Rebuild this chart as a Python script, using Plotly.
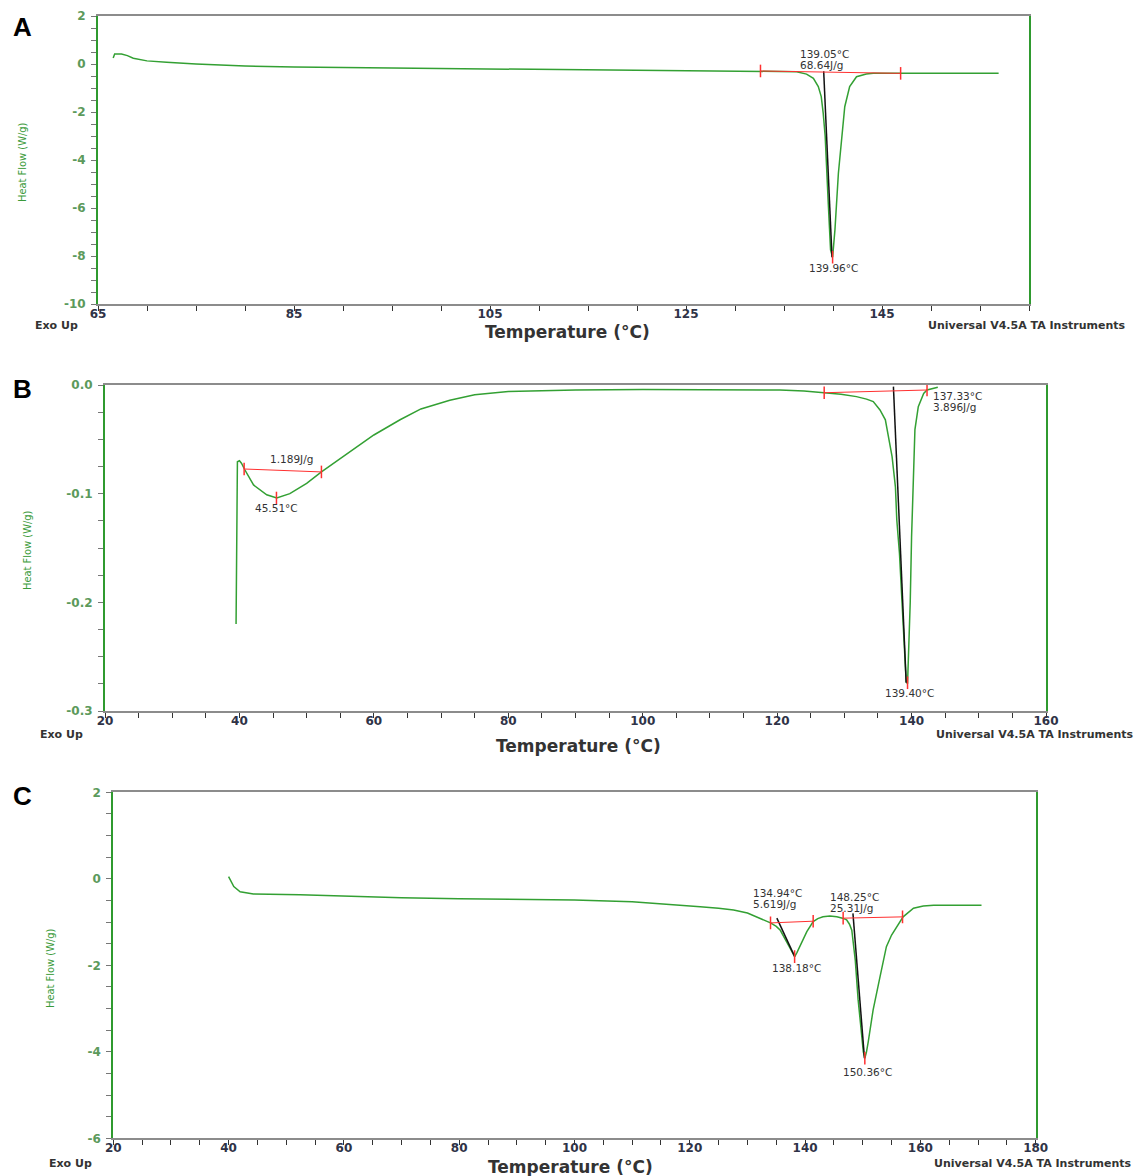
import plotly.graph_objects as go

# The page body adds an 8px margin; the figure is sized/positioned to compensate.
OFF = 8
FW, FH = 1145 - OFF, 1176 - OFF

# ---------------- DATA ----------------
# Panel A
a_temp = [66.55, 66.7, 67.4, 68.0, 68.6, 70.0, 72.0, 75.0, 80.0, 85.0, 95.0, 105.0, 115.0, 125.0,
          131.5, 134.0, 136.3, 137.3, 138.0, 138.5, 138.8, 139.0, 139.2, 139.5, 139.75, 139.96,
          140.2, 140.55, 140.9, 141.2, 141.7, 142.4, 143.4, 144.1, 150.0, 156.9]
a_flow = [0.25, 0.42, 0.42, 0.35, 0.24, 0.13, 0.07, 0.0, -0.08, -0.13, -0.17, -0.2, -0.23, -0.26,
          -0.28, -0.30, -0.32, -0.42, -0.6, -0.94, -1.36, -2.05, -3.0, -5.67, -7.75, -8.05,
          -6.9, -4.55, -2.9, -1.78, -0.94, -0.53, -0.42, -0.39, -0.39, -0.39]
a_tangent_t = [139.05, 139.9]
a_tangent_f = [-0.3, -8.05]
a_base_t = [132.6, 146.9]
a_base_f = [-0.29, -0.39]
a_peak_t = [139.96]
a_peak_f = [-8.05]
a_xticks = [65, 85, 105, 125, 145]
a_yticks = [2, 0, -2, -4, -6, -8, -10]
a_ylabels = ["2", "0", "-2", "-4", "-6", "-8", "-10"]

# Panel B
b_temp = [39.5, 39.55, 39.6, 39.7, 40.0, 40.3, 40.8, 42.1, 44.06, 45.55, 47.5, 50.0, 52.2, 56.5,
          60.0, 63.9, 67.0, 71.3, 75.0, 80.0, 90.0, 100.0, 110.0, 120.4, 124.0, 127.0, 129.5,
          131.8, 133.3, 134.3, 135.3, 136.1, 136.6, 137.1, 137.6, 137.8, 138.2, 138.6, 138.9,
          139.2, 139.4, 139.55, 139.8, 140.0, 140.3, 140.5, 141.0, 141.8, 142.3, 143.9]
b_flow = [-0.22, -0.167, -0.09, -0.0706, -0.0697, -0.072, -0.078, -0.092, -0.101, -0.104, -0.100,
          -0.0905, -0.080, -0.061, -0.046, -0.032, -0.022, -0.014, -0.009, -0.006, -0.0045,
          -0.0042, -0.0043, -0.0046, -0.0055, -0.007, -0.0085, -0.0107, -0.0130, -0.0153, -0.023,
          -0.032, -0.0476, -0.066, -0.094, -0.124, -0.155, -0.201, -0.247, -0.273, -0.275, -0.25,
          -0.20, -0.14, -0.078, -0.041, -0.020, -0.0077, -0.0046, -0.0021]
b_tangent_t = [137.3, 139.2]
b_tangent_f = [-0.0015, -0.274]
b_base1_t = [127.0, 142.3]
b_base1_f = [-0.0071, -0.0046]
b_base2_t = [40.7, 52.2]
b_base2_f = [-0.0773, -0.080]
b_peak_t = [139.4, 45.51]
b_peak_f = [-0.274, -0.104]
b_xticks = [20, 40, 60, 80, 100, 120, 140, 160]
b_yticks = [0.0, -0.1, -0.2, -0.3]
b_ylabels = ["0.0", "-0.1", "-0.2", "-0.3"]

# Panel C
c_temp = [40.0, 40.5, 40.9, 42.0, 44.3, 52.4, 60, 70, 80, 90, 100, 110, 118.3, 121.8, 125, 127.6,
          130, 131.6, 133, 134, 135.0, 135.7, 136.8, 137.5, 138.2, 138.6, 139.1, 140.3, 141.4,
          142.2, 143.1, 144.3, 145.5, 146.5, 147.2, 147.7, 148.1, 148.4, 148.7, 149.2, 149.8,
          150.1, 150.36, 150.65, 150.95, 151.8, 153.0, 154.1, 155.0, 155.9, 157.0, 158.8, 160.5,
          162.3, 170.6]
c_flow = [0.05, -0.08, -0.18, -0.30, -0.35, -0.37, -0.40, -0.44, -0.46, -0.47, -0.49, -0.53, -0.6,
          -0.645, -0.68, -0.72, -0.79, -0.88, -0.95, -1.02, -1.1, -1.19, -1.46, -1.63, -1.80,
          -1.70, -1.57, -1.22, -0.99, -0.92, -0.88, -0.86, -0.88, -0.91, -0.95, -1.05, -1.19,
          -1.5, -1.88, -2.80, -3.65, -4.0, -4.15, -4.0, -3.77, -3.03, -2.26, -1.57, -1.30, -1.11,
          -0.88, -0.68, -0.63, -0.61, -0.61]
c_tangent1_t = [135.1, 138.2]
c_tangent1_f = [-0.91, -1.8]
c_tangent2_t = [148.3, 150.3]
c_tangent2_f = [-0.80, -4.15]
c_base1_t = [134.0, 141.4]
c_base1_f = [-1.02, -0.98]
c_base2_t = [146.6, 156.9]
c_base2_f = [-0.91, -0.88]
c_peak_t = [138.18, 150.36]
c_peak_f = [-1.8, -4.15]
c_xticks = [20, 40, 60, 80, 100, 120, 140, 160, 180]
c_yticks = [2, 0, -2, -4, -6]
c_ylabels = ["2", "0", "-2", "-4", "-6"]

# ---------------- STYLE ----------------
GREEN = "#33a033"
AXGREEN = "#2f9a2f"
RED = "#ff3030"
TXT = "#333333"
TICKY = "#5c9a5c"
FONT = "DejaVu Sans"


def fx(p):
    return (p - OFF) / FW


def fy(p):
    return 1 - (p - OFF) / FH


fig = go.Figure()


def add_panel(k, temp, flow, tangents, bases, peaks):
    xa = "x" if k == 1 else f"x{k}"
    ya = "y" if k == 1 else f"y{k}"
    fig.add_trace(go.Scatter(x=temp, y=flow, mode="lines", line=dict(color=GREEN, width=1.5),
                             xaxis=xa, yaxis=ya, showlegend=False, hoverinfo="skip"))
    for tt, tf in tangents:
        fig.add_trace(go.Scatter(x=tt, y=tf, mode="lines", line=dict(color="#111111", width=1.5),
                                 xaxis=xa, yaxis=ya, showlegend=False, hoverinfo="skip"))
    for bt, bf in bases:
        fig.add_trace(go.Scatter(x=bt, y=bf, mode="lines+markers", line=dict(color=RED, width=1),
                                 marker=dict(symbol="line-ns", size=9,
                                             line=dict(color=RED, width=1.5)),
                                 xaxis=xa, yaxis=ya, showlegend=False, hoverinfo="skip"))
    fig.add_trace(go.Scatter(x=peaks[0], y=peaks[1], mode="markers",
                             marker=dict(symbol="line-ns", size=9, line=dict(color=RED, width=1.5)),
                             xaxis=xa, yaxis=ya, showlegend=False, hoverinfo="skip"))


add_panel(1, a_temp, a_flow, [(a_tangent_t, a_tangent_f)], [(a_base_t, a_base_f)],
          (a_peak_t, a_peak_f))
add_panel(2, b_temp, b_flow, [(b_tangent_t, b_tangent_f)],
          [(b_base1_t, b_base1_f), (b_base2_t, b_base2_f)], (b_peak_t, b_peak_f))
add_panel(3, c_temp, c_flow, [(c_tangent1_t, c_tangent1_f), (c_tangent2_t, c_tangent2_f)],
          [(c_base1_t, c_base1_f), (c_base2_t, c_base2_f)], (c_peak_t, c_peak_f))


def xaxis(left, right, rng, ticks, anchor):
    return dict(domain=[fx(left), fx(right)], range=rng, tickvals=ticks, anchor=anchor,
                automargin=False,
                showline=True, linecolor="#8c8c8c", linewidth=1.5, mirror=True,
                ticks="outside", ticklen=5, tickcolor="#333333", tickwidth=1.2,
                minor=dict(dtick=5, tick0=0, ticks="outside", ticklen=5, tickcolor="#333333"),
                showgrid=False, zeroline=False, ticklabelstandoff=-7,
                tickfont=dict(family=FONT, size=12, color="#2f3347", weight="bold"))


def yaxis(top, bottom, rng, ticks, labels, minor, anchor):
    return dict(domain=[fy(bottom), fy(top)], range=rng, tickvals=ticks, ticktext=labels,
                anchor=anchor, automargin=False,
                showline=True, linecolor=AXGREEN, linewidth=2, mirror=True,
                ticks="outside", ticklen=5, tickcolor="#777777", tickwidth=1,
                minor=dict(dtick=minor, tick0=0, ticks="outside", ticklen=5, tickcolor="#777777"),
                showgrid=False, zeroline=False, ticklabelstandoff=3,
                tickfont=dict(family=FONT, size=12, color=TICKY, weight="bold"))


fig.update_layout(
    width=FW, height=FH, margin=dict(l=0, r=0, t=0, b=0, autoexpand=False),
    paper_bgcolor="white", plot_bgcolor="white",
    xaxis=xaxis(98, 1029, [65, 160], a_xticks, "y"),
    yaxis=yaxis(16, 304, [-10, 2], a_yticks, a_ylabels, 0.5, "x"),
    xaxis2=xaxis(105, 1046, [20, 160], b_xticks, "y2"),
    yaxis2=yaxis(385, 711, [-0.3, 0.0], b_yticks, b_ylabels, 0.025, "x2"),
    xaxis3=xaxis(113.3, 1035.7, [20, 180], c_xticks, "y3"),
    yaxis3=yaxis(792.3, 1138.3, [-6, 2], c_yticks, c_ylabels, 0.5, "x3"),
)

ann = []


def paper_text(px, py, text, size, color, bold=False, xanchor="center", angle=0, family=FONT):
    ann.append(dict(x=fx(px), y=fy(py), xref="paper", yref="paper", text=text,
                    showarrow=False, xanchor=xanchor, yanchor="middle", textangle=angle,
                    font=dict(family=family, size=size, color=color,
                              weight="bold" if bold else "normal")))


# peak annotations (positions in reference pixels)
peak_labels = [
    (824, 54, "139.05°C", "center"), (821, 65, "68.64J/g", "center"),
    (833, 268, "139.96°C", "center"),
    (931, 395.5, "137.33°C", "left"), (931, 406.5, "3.896J/g", "left"),
    (909, 693, "139.40°C", "center"),
    (291, 459, "1.189J/g", "center"), (276, 508, "45.51°C", "center"),
    (777.5, 893, "134.94°C", "center"), (774, 904.5, "5.619J/g", "center"),
    (854, 896.5, "148.25°C", "center"), (851, 908, "25.31J/g", "center"),
    (796, 968, "138.18°C", "center"), (867, 1072, "150.36°C", "center"),
]
for px, py, t, xa in peak_labels:
    paper_text(px, py, t, 10.5, TXT, False, xanchor=xa)

for letter, py in [("A", 27), ("B", 389), ("C", 796)]:
    paper_text(22, py, letter, 26, "black", True, family="Liberation Sans")

for cx, cy in [(567, 332), (578, 746), (570, 1167)]:
    paper_text(cx, cy, "Temperature (°C)", 17, TXT, True)

for cx, cy in [(22, 162), (27, 550), (50, 968)]:
    paper_text(cx, cy, "Heat Flow (W/g)", 11, "#3a9a3a", False, angle=-90,
               family="Liberation Sans Narrow, DejaVu Sans Condensed, Liberation Sans")

for cx, cy in [(56, 325), (62, 734), (70, 1163)]:
    paper_text(cx, cy, "Exo Up", 11, TXT, True)

for rx, cy in [(1127, 325), (1135, 734), (1133, 1163)]:
    paper_text(rx, cy, "Universal V4.5A TA Instruments", 11, TXT, True, xanchor="right")

fig.update_layout(annotations=ann)
fig.write_html("out.html")
